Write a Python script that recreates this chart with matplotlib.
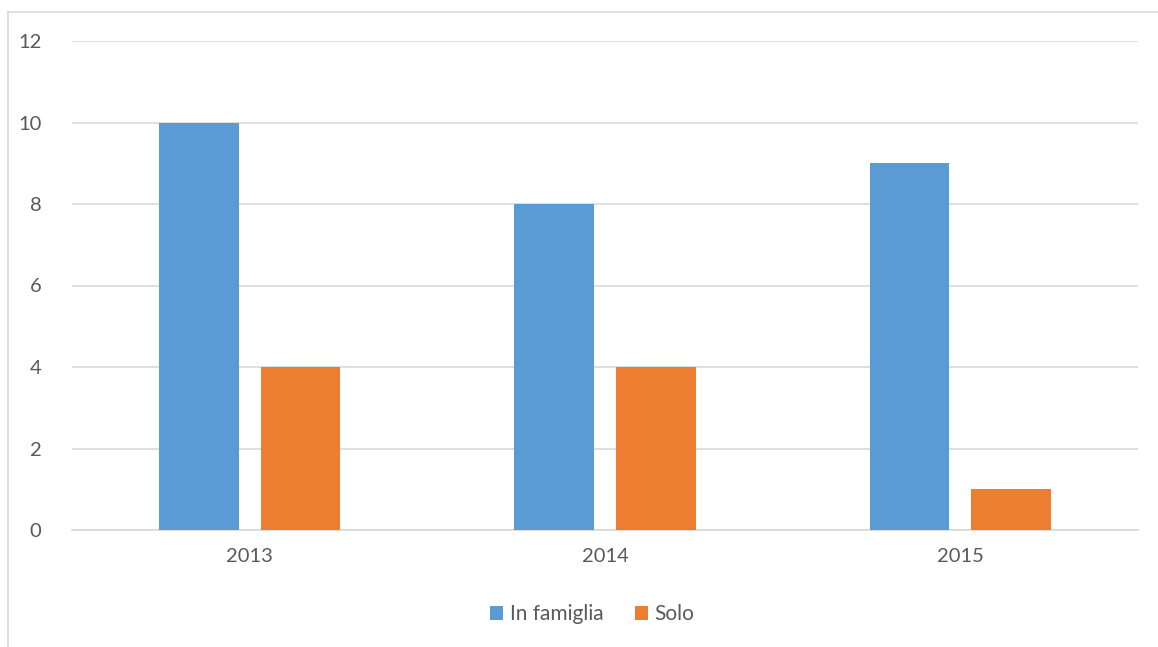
import matplotlib
matplotlib.use("Agg")
import matplotlib.pyplot as plt
from matplotlib.lines import Line2D
import numpy as np

years = ["2013", "2014", "2015"]
in_famiglia = [10, 8, 9]
solo = [4, 4, 1]
series_names = ["In famiglia", "Solo"]
colors = ["#5B9BD5", "#ED7D31"]
y_ticks = [0, 2, 4, 6, 8, 10, 12]

plt.rcParams["font.family"] = ["Lato", "DejaVu Sans"]
text_color = "#595959"

W, H = 1158, 647
fig = plt.figure(figsize=(W / 100, H / 100), dpi=100)
ax = fig.add_axes([72 / W, 1 - 530 / H, (1138 - 72) / W, (530 - 41) / H])

x = np.arange(len(years))
bw = 0.225
off = 0.143
ax.bar(x - off, in_famiglia, width=bw, color=colors[0], zorder=3, label=series_names[0])
ax.bar(x + off, solo, width=bw, color=colors[1], zorder=3, label=series_names[1])

ax.set_xlim(-0.5, len(years) - 0.5)
ax.set_ylim(0, 12)
ax.set_yticks(y_ticks)
ax.set_xticks(x)
ax.set_xticklabels(years)
ax.grid(axis="y", color="#D9D9D9", linewidth=1.2, zorder=0)
for s in ["top", "right", "left"]:
    ax.spines[s].set_visible(False)
ax.spines["bottom"].set_color("#D9D9D9")
ax.spines["bottom"].set_linewidth(1.2)
ax.tick_params(axis="both", length=0, labelsize=14.5, colors=text_color)
ax.tick_params(axis="y", pad=22)
ax.tick_params(axis="x", pad=13)

leg = fig.legend(loc="center", bbox_to_anchor=(592 / W, 1 - 614 / H), ncol=2,
                 frameon=False, fontsize=15, handlelength=0.65, handleheight=0.65,
                 handletextpad=0.3, columnspacing=1.5, labelcolor=text_color)

# chart frame
fig.add_artist(Line2D([8 / W, 8 / W], [0, 1 - 12 / H], color="#D9D9D9", lw=1.2,
                      transform=fig.transFigure))
fig.add_artist(Line2D([8 / W, 1], [1 - 12 / H, 1 - 12 / H], color="#D9D9D9", lw=1.2,
                      transform=fig.transFigure))

fig.savefig("out.png", dpi=100, facecolor="white")
